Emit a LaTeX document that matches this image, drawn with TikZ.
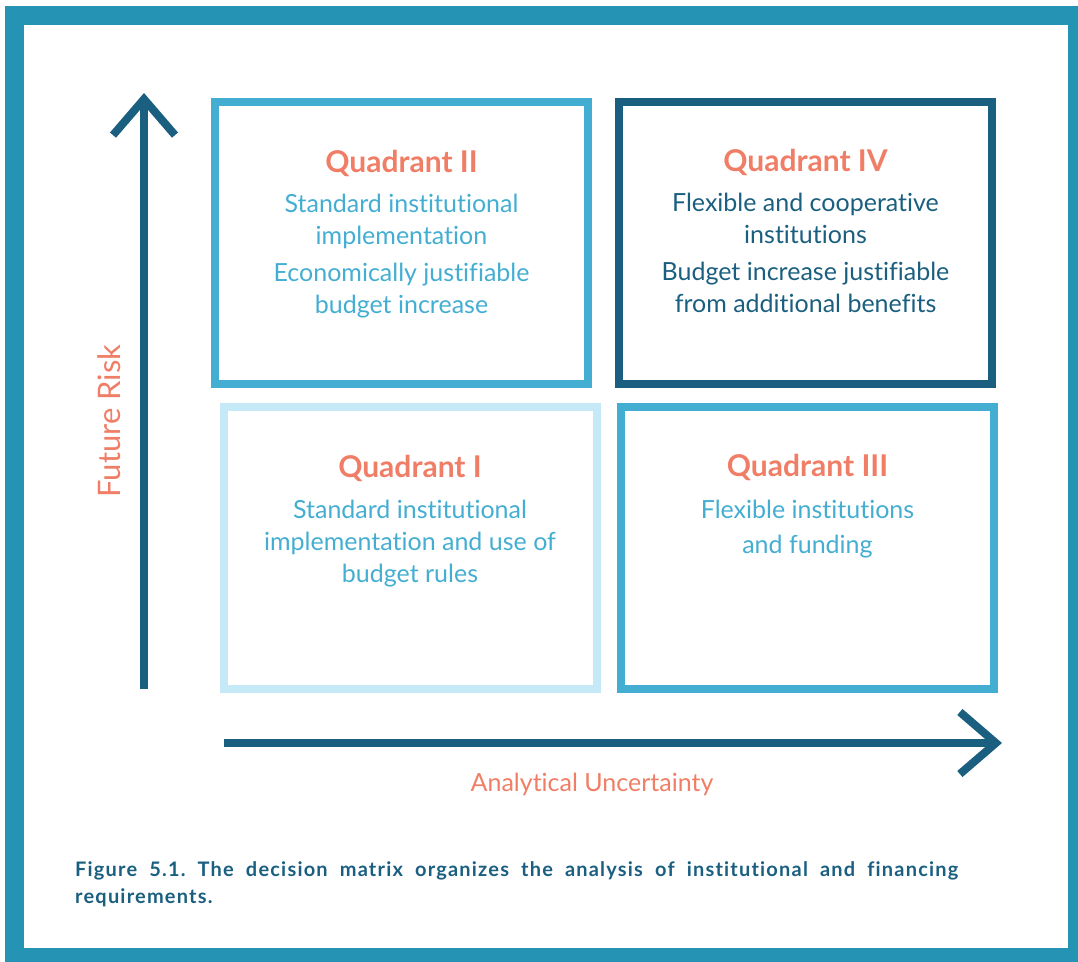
\documentclass[tikz,border=0pt]{standalone}
\usepackage{fontspec}
\setmainfont{Lato}[Ligatures=NoCommon]
\newfontfamily\capfont{Lato}[LetterSpace=6.0,Ligatures=NoCommon]
\usetikzlibrary{arrows.meta,positioning}
\definecolor{frameteal}{HTML}{2594B4}
\definecolor{navy}{HTML}{1B5F80}
\definecolor{salmon}{HTML}{F07E66}
\definecolor{midblue}{HTML}{44AED2}
\definecolor{paleblue}{HTML}{C6E9F8}
\frenchspacing
\begin{document}
\begin{tikzpicture}[x=1pt,y=-1pt,
  quad/.style={draw,line width=8pt,minimum width=373pt,minimum height=282pt,inner sep=0pt},
  title/.style={anchor=base,inner sep=0pt,text=salmon,font=\bfseries\fontsize{30}{36}\selectfont},
  body/.style={anchor=base,inner sep=0pt,align=center,font=\fontsize{25}{32}\selectfont},
  axis/.style={draw=navy,line width=8pt,-{Straight Barb[length=36pt,width=62pt,sharp]}}]
  \useasboundingbox (0,0) rectangle (1078,961);
  \clip (0,0) rectangle (1078,961);
  \draw[frameteal,line width=19pt] (14.5,15.5) rectangle (1077.5,957.5);
  % the four quadrants
  \node[quad,draw=midblue] (q2) at (401.5,242.5) {};
  \node[quad,draw=navy] (q4) at (805.75,242.5) {};
  \node[quad,draw=paleblue] (q1) at (410,548) {};
  \node[quad,draw=midblue] (q3) at (807.75,548) {};
  \node[title] (t2) at (401.5,172) {Quadrant II};
  \node[title] (t4) at (805.5,171) {Quadrant IV};
  \node[title] (t1) at (410,477) {Quadrant I};
  \node[title] (t3) at (807.5,476) {Quadrant III};
  % base anchor sits on the last line
  \node[body,text=midblue] (b2) at (401.5,313) {Standard institutional\\implementation\\[5pt]Economically justifiable\\budget increase};
  \node[body,text=navy] (b4) at (805.5,312) {Flexible and cooperative\\institutions\\[5pt]Budget increase justifiable\\from additional benefits};
  \node[body,text=midblue] (b1) at (410,582) {Standard institutional\\implementation and use of\\budget rules};
  \node[body,text=midblue,font=\fontsize{25}{35}\selectfont] (b3) at (807.5,553) {Flexible institutions\\and funding};
  % axes
  \coordinate (yfoot) at (144,689);
  \coordinate (ytip) at (144,93);
  \coordinate (xfoot) at (224,743);
  \coordinate (xtip) at (1002,743);
  \draw[axis] (yfoot) -- (ytip);
  \draw[axis] (xfoot) -- (xtip);
  \node[rotate=90,inner sep=0pt,text=salmon,font=\fontsize{31}{36}\selectfont] (risk) at (109,421) {Future Risk};
  \node[anchor=base,inner sep=0pt,text=salmon,font=\fontsize{25}{30}\selectfont] (unc) at (592,791) {Analytical Uncertainty};
  % caption
  \node[anchor=base west,inner sep=0pt,text width=883pt,align=justify,text=navy,font=\capfont\bfseries\fontsize{20}{27}\selectfont] (cap) at (75,876)
    {Figure 5.1. The decision matrix organizes the analysis of institutional and financing\linebreak requirements.};
\end{tikzpicture}
\end{document}
